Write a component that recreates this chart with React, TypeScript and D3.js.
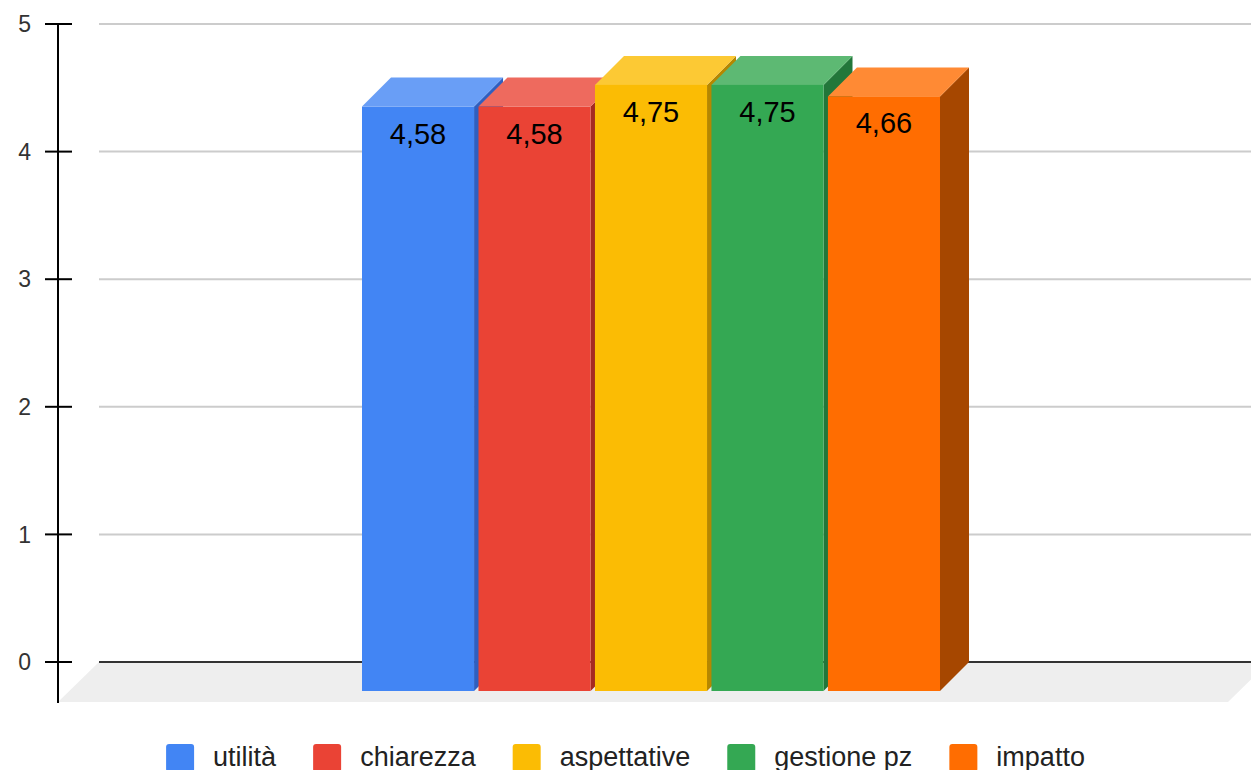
import { useEffect, useRef } from "react";
import * as d3 from "d3";

const series = ["utilità", "chiarezza", "aspettative", "gestione pz", "impatto"];
const values = [4.58, 4.58, 4.75, 4.75, 4.66];
const labels = ["4,58", "4,58", "4,75", "4,75", "4,66"];
const yTicks = [0, 1, 2, 3, 4, 5];

const frontColors = ["#4285F4", "#EA4335", "#FBBC04", "#34A853", "#FF6D01"];
const topColors = ["#699EF6", "#EE6A5E", "#FCC934", "#5DB973", "#FF8A34"];
const sideColors = ["#2F5FC0", "#A52A22", "#B58700", "#22773A", "#A64700"];

const W = 1251;
const H = 770;

const App = () => {
  const svgRef = useRef<SVGSVGElement>(null);

  useEffect(() => {
    if (!svgRef.current) return;
    const svg = d3.select(svgRef.current);
    svg.selectAll("*").remove();

    const font = "'Liberation Sans', Arial, sans-serif";
    const backLeft = 99;
    const backRight = W;
    const depth = 29; // bar depth offset
    const floorDx = 41;
    const floorDy = 40;

    const y = d3.scaleLinear().domain([0, 5]).range([662, 24]);
    const x = d3
      .scaleBand<string>()
      .domain(series)
      .range([362, 940])
      .paddingInner(0.038)
      .paddingOuter(0);

    const pts = (p: number[][]) => p.map((q) => q.join(",")).join(" ");

    // floor
    const y0 = y(0);
    svg
      .append("polygon")
      .attr(
        "points",
        pts([
          [backLeft, y0],
          [backRight + 18, y0],
          [backRight + 18 - floorDx, y0 + floorDy],
          [backLeft - floorDx, y0 + floorDy],
        ]),
      )
      .attr("fill", "#EEEEEE");

    // gridlines on back wall
    svg
      .append("g")
      .selectAll("line")
      .data(yTicks.filter((t) => t > 0))
      .join("line")
      .attr("x1", backLeft)
      .attr("x2", backRight)
      .attr("y1", (d) => y(d))
      .attr("y2", (d) => y(d))
      .attr("stroke", "#CCCCCC")
      .attr("stroke-width", 2);

    svg
      .append("line")
      .attr("x1", backLeft)
      .attr("x2", backRight)
      .attr("y1", y0)
      .attr("y2", y0)
      .attr("stroke", "#333333")
      .attr("stroke-width", 2);

    // y axis
    const axisX = 58;
    svg
      .append("line")
      .attr("x1", axisX)
      .attr("x2", axisX)
      .attr("y1", y(5) - 1)
      .attr("y2", y0 + floorDy + 1)
      .attr("stroke", "#000")
      .attr("stroke-width", 2);

    const ticks = svg.append("g");
    ticks
      .selectAll("line")
      .data(yTicks)
      .join("line")
      .attr("x1", axisX - 13)
      .attr("x2", axisX + 14)
      .attr("y1", (d) => y(d))
      .attr("y2", (d) => y(d))
      .attr("stroke", "#000")
      .attr("stroke-width", 2);
    ticks
      .selectAll("text")
      .data(yTicks)
      .join("text")
      .attr("x", 31)
      .attr("y", (d) => y(d))
      .attr("dy", "0.36em")
      .attr("text-anchor", "end")
      .attr("font-family", font)
      .attr("font-size", 23)
      .attr("fill", "#333")
      .text((d) => d);

    // bars
    const bw = x.bandwidth();
    const bars = svg
      .append("g")
      .selectAll("g")
      .data(series)
      .join("g");

    bars.each(function (s, i) {
      const g = d3.select(this);
      const x0 = x(s)!;
      const yt = y(values[i]) + depth;
      const yb = y0 + depth;
      g.append("polygon")
        .attr(
          "points",
          pts([
            [x0 + bw, yt],
            [x0 + bw + depth, yt - depth],
            [x0 + bw + depth, yb - depth],
            [x0 + bw, yb],
          ]),
        )
        .attr("fill", sideColors[i]);
      g.append("polygon")
        .attr(
          "points",
          pts([
            [x0, yt],
            [x0 + depth, yt - depth],
            [x0 + bw + depth, yt - depth],
            [x0 + bw, yt],
          ]),
        )
        .attr("fill", topColors[i]);
      g.append("rect")
        .attr("x", x0)
        .attr("y", yt)
        .attr("width", bw)
        .attr("height", yb - yt)
        .attr("fill", frontColors[i]);
      g.append("text")
        .attr("x", x0 + bw / 2)
        .attr("y", yt + 37)
        .attr("text-anchor", "middle")
        .attr("font-family", font)
        .attr("font-size", 29)
        .attr("fill", "#000")
        .text(labels[i]);
    });

    // legend
    const ctx = document.createElement("canvas").getContext("2d")!;
    const legendFont = 27;
    ctx.font = `${legendFont}px 'Liberation Sans', Arial`;
    const sq = 28;
    const textGap = 19;
    const itemGap = 37;
    const widths = series.map((s) => sq + textGap + ctx.measureText(s).width);
    const total = d3.sum(widths) + itemGap * (series.length - 1);
    let cx = (W - total) / 2;
    const legend = svg.append("g");
    series.forEach((s, i) => {
      legend
        .append("rect")
        .attr("x", cx)
        .attr("y", 744)
        .attr("width", sq)
        .attr("height", sq)
        .attr("rx", 3)
        .attr("fill", frontColors[i]);
      legend
        .append("text")
        .attr("x", cx + sq + textGap)
        .attr("y", 766)
        .attr("font-family", font)
        .attr("font-size", legendFont)
        .attr("fill", "#222")
        .text(s);
      cx += widths[i] + itemGap;
    });
  }, []);

  return (
    <svg
      ref={svgRef}
      width={W}
      height={H}
      style={{ position: "absolute", left: 0, top: 0, background: "#fff" }}
    />
  );
};

export default App;
